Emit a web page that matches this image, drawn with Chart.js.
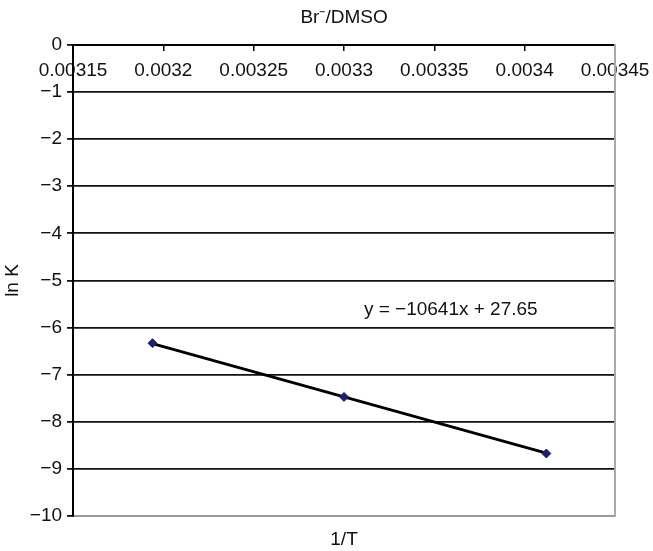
<!DOCTYPE html>
<html>
<head>
<meta charset="utf-8">
<script src="https://cdn.jsdelivr.net/npm/chart.js@4/dist/chart.umd.min.js"></script>
<style>
  html, body { margin: 0; padding: 0; background: #fff; }
  #wrap { width: 653px; height: 551px; }
</style>
</head>
<body>
<div id="wrap"><canvas id="c" width="653" height="551"></canvas></div>
<script>
// ---- data ----
const invT = [0.003194, 0.0033, 0.003412];
const lnK = [-6.33, -7.47, -8.67];
const trendX = [0.003194, 0.003412];
const trendY = [-6.34, -8.66];
const xTickLabels = ['0.00315', '0.0032', '0.00325', '0.0033', '0.00335', '0.0034', '0.00345'];
const yTickLabels = ['0', '−1', '−2', '−3', '−4', '−5', '−6', '−7', '−8', '−9', '−10'];
const titleText = 'Br\u207B/DMSO';
const xTitle = '1/T';
const yTitle = 'ln K';
const equationText = 'y = −10641x + 27.65';
const equationAt = { x: 0.003311, y: -5.62 };

const FONT = "'Liberation Sans', Arial, Helvetica, sans-serif";
const FS = 19;
const TXT = '#111';

const eqPlugin = {
  id: 'eq',
  afterDatasetsDraw(chart) {
    const { ctx, scales } = chart;
    ctx.save();
    ctx.font = FS + 'px ' + FONT;
    ctx.fillStyle = TXT;
    ctx.textAlign = 'left';
    ctx.textBaseline = 'middle';
    ctx.fillText(equationText, scales.x.getPixelForValue(equationAt.x), scales.y.getPixelForValue(equationAt.y));
    ctx.restore();
  }
};

new Chart(document.getElementById('c'), {
  type: 'scatter',
  data: {
    datasets: [
      {
        type: 'line',
        data: trendX.map((x, i) => ({ x, y: trendY[i] })),
        borderColor: '#000',
        borderWidth: 2.8,
        pointRadius: 0,
        fill: false,
        order: 2
      },
      {
        data: invT.map((x, i) => ({ x, y: lnK[i] })),
        pointStyle: 'rectRot',
        pointRadius: 4.5,
        backgroundColor: '#1f1f70',
        borderColor: '#1f1f70',
        borderWidth: 1,
        order: 1
      }
    ]
  },
  options: {
    responsive: false,
    animation: false,
    layout: { padding: { left: 0, right: 30, top: 0, bottom: 0 } },
    plugins: {
      legend: { display: false },
      tooltip: { enabled: false },
      title: {
        display: true,
        text: titleText,
        fullSize: false,
        color: TXT,
        font: { family: FONT, size: FS, weight: 'normal' },
        padding: { top: 6, bottom: 16 }
      }
    },
    scales: {
      x: {
        type: 'linear',
        position: { y: 0 },
        min: 0.00315,
        max: 0.00345,
        afterFit: (s) => { s.paddingLeft = 0; s.paddingRight = 0; },
        ticks: {
          stepSize: 0.00005,
          color: TXT,
          font: { family: FONT, size: FS },
          padding: 10,
          maxRotation: 0,
          autoSkip: false,
          callback: (v, i) => xTickLabels[i]
        },
        grid: { drawOnChartArea: false, color: '#000', tickLength: 5, lineWidth: 1.5 },
        border: { display: true, color: '#000', width: 2 }
      },
      xb: {
        type: 'linear',
        position: 'bottom',
        min: 0.00315,
        max: 0.00345,
        ticks: { display: false },
        grid: { display: false },
        border: { display: true, color: '#999', width: 2 },
        title: {
          display: true,
          text: xTitle,
          color: TXT,
          font: { family: FONT, size: FS },
          padding: { top: 4, bottom: 0 }
        }
      },
      y: {
        position: 'left',
        min: -10,
        max: 0,
        ticks: {
          stepSize: 1,
          color: TXT,
          font: { family: FONT, size: FS },
          padding: 5,
          callback: (v) => yTickLabels[Math.round(-v)]
        },
        grid: {
          color: (c) => (c.tick && c.tick.value === -10 ? '#999' : '#111'),
          tickColor: '#111',
          lineWidth: 1.8,
          tickLength: 6
        },
        border: { display: true, color: '#000', width: 2 },
        title: {
          display: true,
          text: yTitle,
          color: TXT,
          font: { family: FONT, size: FS },
          padding: { top: 1, bottom: 1 }
        }
      },
      yr: {
        position: 'right',
        min: -10,
        max: 0,
        ticks: { display: false },
        grid: { display: false },
        border: { display: true, color: '#aaa', width: 2 }
      }
    }
  },
  plugins: [eqPlugin]
});
</script>
</body>
</html>
